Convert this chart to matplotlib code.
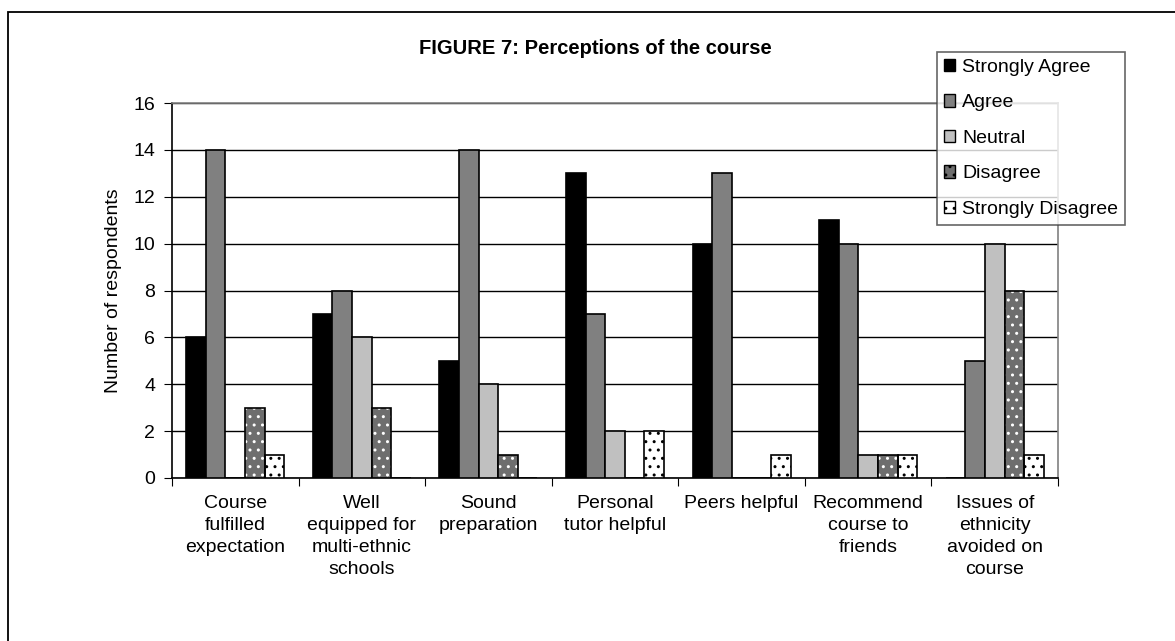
import matplotlib.pyplot as plt
import numpy as np
from matplotlib.patches import Rectangle, Patch

plt.rcParams['font.family'] = ['Liberation Sans', 'DejaVu Sans']

categories = ['Course\nfulfilled\nexpectation', 'Well\nequipped for\nmulti-ethnic\nschools',
              'Sound\npreparation', 'Personal\ntutor helpful', 'Peers helpful',
              'Recommend\ncourse to\nfriends', 'Issues of\nethnicity\navoided on\ncourse']
series = ['Strongly Agree', 'Agree', 'Neutral', 'Disagree', 'Strongly Disagree']
strongly_agree = [6, 7, 5, 13, 10, 11, 0]
agree = [14, 8, 14, 7, 13, 10, 5]
neutral = [0, 6, 4, 2, 0, 1, 10]
disagree = [3, 3, 1, 0, 0, 1, 8]
strongly_disagree = [1, 0, 0, 2, 1, 1, 1]
values = [strongly_agree, agree, neutral, disagree, strongly_disagree]

# face colour, hatch, hatch colour
styles = [('black', None, None), ('#808080', None, None), ('#c0c0c0', None, None),
          ('#6e6e6e', '..', 'white'), ('white', '..', 'black')]

fs = 14
fig = plt.figure(figsize=(11.75, 6.41), dpi=100)
ax = fig.add_axes([172 / 1175, 1 - 478 / 641, (1058 - 172) / 1175, (478 - 103) / 641])

# outer frame of the chart object
fig.patches.append(Rectangle((8 / 1175, -0.1), 1.2, 1 - 12 / 641 + 0.1, transform=fig.transFigure,
                             fill=False, edgecolor='black', linewidth=1.3, zorder=0))

x = np.arange(len(categories))
w = 0.155
handles = []
for i, (vals, (fc, hatch, hc)) in enumerate(zip(values, styles)):
    pos = x - 2 * w + i * w
    if hatch:
        plt.rcParams['hatch.color'] = hc
        plt.rcParams['hatch.linewidth'] = 1.0
        ax.bar(pos, vals, w, color=fc, hatch=hatch, edgecolor=hc, linewidth=0, zorder=3)
        ax.bar(pos, vals, w, fill=False, edgecolor='black', linewidth=1.2, zorder=4)
        handles.append(Patch(facecolor=fc, edgecolor='black', hatch=hatch, label=series[i]))
    else:
        ax.bar(pos, vals, w, color=fc, edgecolor='black', linewidth=1.2, zorder=3)
        handles.append(Patch(facecolor=fc, edgecolor='black', label=series[i]))

ax.set_xlim(-0.5, len(categories) - 0.5)
ax.set_ylim(0, 16)
ax.set_yticks(np.arange(0, 17, 2))
ax.yaxis.grid(True, color='black', linewidth=1.0, zorder=0)
ax.set_axisbelow(True)

ax.set_xticks(np.arange(-0.5, len(categories), 1))
ax.set_xticklabels([])
ax.set_xticks(x, minor=True)
ax.set_xticklabels(categories, minor=True, fontsize=fs, va='top')
for t in ax.get_xticklabels(minor=True):
    t.set_linespacing(1.4)
ax.tick_params(axis='x', which='minor', length=0, pad=12)
ax.tick_params(axis='x', which='major', length=6, direction='out', color='black')
ax.tick_params(axis='y', length=6, direction='out', labelsize=fs, pad=6)

for s in ['top', 'right']:
    ax.spines[s].set_color('#808080')
ax.spines['left'].set_color('black')
ax.spines['bottom'].set_color('black')
for s in ax.spines.values():
    s.set_linewidth(1.2)

ax.set_ylabel('Number of respondents', fontsize=fs, labelpad=8)
fig.text(595 / 1175, 1 - 48 / 641, 'FIGURE 7: Perceptions of the course', fontsize=14.5,
         fontweight='bold', ha='center', va='center')

leg = fig.legend(handles=handles, loc='upper left', bbox_to_anchor=(937 / 1175, 1 - 52 / 641),
                 bbox_transform=fig.transFigure, fontsize=fs, frameon=True, fancybox=False,
                 handlelength=0.6, handleheight=0.6, handletextpad=0.35, labelspacing=0.95,
                 borderpad=0.35, borderaxespad=0)
leg.get_frame().set_edgecolor('#404040')
leg.get_frame().set_linewidth(1.2)

fig.savefig('out.png', dpi=100)
